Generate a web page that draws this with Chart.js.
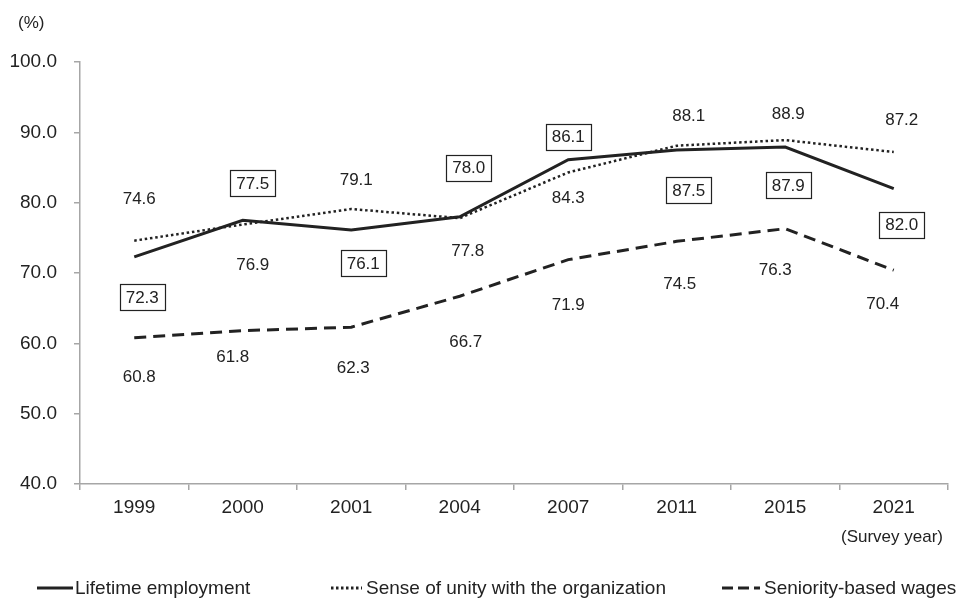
<!DOCTYPE html>
<html>
<head>
<meta charset="utf-8">
<script src="https://cdn.jsdelivr.net/npm/chart.js@4/dist/chart.umd.min.js"></script>
<style>
  html, body { margin: 0; padding: 0; background: #fff; }
  #wrap { width: 976px; height: 608px; }
</style>
</head>
<body>
<div id="wrap"><canvas id="myChart" width="976" height="608"></canvas></div>
<script>
// survey years and the three series (%)
var years = ["1999", "2000", "2001", "2004", "2007", "2011", "2015", "2021"];
var lifetime = [72.3, 77.5, 76.1, 78.0, 86.1, 87.5, 87.9, 82.0];
var unity = [74.6, 76.9, 79.1, 77.8, 84.3, 88.1, 88.9, 87.2];
var seniority = [60.8, 61.8, 62.3, 66.7, 71.9, 74.5, 76.3, 70.4];
var yTicks = [40, 50, 60, 70, 80, 90, 100];

var seriesNames = ["Lifetime employment", "Sense of unity with the organization", "Seniority-based wages"];

// where each value label sits relative to its point (px, label centre)
var labelDy = [
    [40, -37, 33, -49, -23, 40, 38, 36],
    [-42, 40, -30, 32, 25, -30, -27, -33],
    [39, 26, 40, 45, 45, 42, 41, 33]
];
var labelDx = [
    [8, 10, 12, 9, 0, 12, 3, 8],
    [5, 10, 5, 8, 0, 12, 3, 8],
    [5, -10, 2, 6, 0, 3, -10, -11]
];

var ink = "#222222";
var axisGrey = "#a6a6a6";
var font = "'Liberation Sans', Arial, sans-serif";

var valueLabels = {
    id: "valueLabels",
    afterDatasetsDraw: function (chart) {
        var ctx = chart.ctx;
        ctx.save();
        ctx.font = "17px " + font;
        ctx.textAlign = "center";
        ctx.textBaseline = "middle";
        chart.data.datasets.forEach(function (ds, i) {
            var meta = chart.getDatasetMeta(i);
            meta.data.forEach(function (pt, j) {
                var txt = ds.data[j].toFixed(1);
                var x = pt.x + labelDx[i][j];
                var y = pt.y + labelDy[i][j];
                if (i == 0) {
                    var w = ctx.measureText(txt).width + 12;
                    ctx.fillStyle = "#fff";
                    ctx.fillRect(x - w / 2, y - 13, w, 26);
                    ctx.strokeStyle = ink;
                    ctx.lineWidth = 1.2;
                    ctx.strokeRect(Math.round(x - w / 2) + 0.5, Math.round(y - 13) + 0.5, Math.round(w), 26);
                }
                ctx.fillStyle = ink;
                ctx.fillText(txt, x, y + 1);
            });
        });
        ctx.restore();
    }
};

var extras = {
    id: "extras",
    afterDraw: function (chart) {
        var ctx = chart.ctx;
        ctx.save();
        ctx.fillStyle = ink;
        ctx.font = "17px " + font;
        ctx.textBaseline = "middle";
        ctx.textAlign = "left";
        ctx.fillText("(%)", 18, 23);
        ctx.textAlign = "right";
        ctx.fillText("(Survey year)", 943, 537);

        // legend
        var legendY = 588;
        var items = [
            { x0: 37, len: 36, dash: [], tx: 75 },
            { x0: 331, len: 31, dash: [2.5, 2.5], tx: 366 },
            { x0: 722, len: 38, dash: [11, 5], tx: 764 }
        ];
        ctx.textAlign = "left";
        ctx.font = "19px " + font;
        items.forEach(function (it, k) {
            ctx.beginPath();
            ctx.setLineDash(it.dash);
            ctx.strokeStyle = ink;
            ctx.lineWidth = 3;
            ctx.moveTo(it.x0, legendY);
            ctx.lineTo(it.x0 + it.len, legendY);
            ctx.stroke();
            ctx.setLineDash([]);
            ctx.fillText(seriesNames[k], it.tx, legendY + 1);
        });
        ctx.restore();
    }
};

new Chart("myChart", {
    type: "line",
    data: {
        labels: years,
        datasets: [
            { label: seriesNames[0], data: lifetime, borderColor: ink, borderWidth: 3 },
            { label: seriesNames[1], data: unity, borderColor: ink, borderWidth: 2.5, borderDash: [2.5, 2.8] },
            { label: seriesNames[2], data: seniority, borderColor: ink, borderWidth: 3, borderDash: [12, 7] }
        ]
    },
    options: {
        responsive: false,
        animation: false,
        devicePixelRatio: 1,
        layout: { padding: { left: 0, right: 28, top: 62, bottom: 84 } },
        elements: {
            point: { radius: 0, hoverRadius: 0 },
            line: { tension: 0, fill: false }
        },
        plugins: {
            legend: { display: false },
            tooltip: { enabled: false },
            title: { display: false }
        },
        scales: {
            x: {
                offset: true,
                afterFit: function (s) { s.height = 40; },
                border: { color: axisGrey, width: 1.5 },
                grid: { display: true, offset: true, drawOnChartArea: false, drawTicks: true, tickLength: 6, color: axisGrey, lineWidth: 1.5 },
                ticks: { color: ink, font: { family: font, size: 19 }, padding: 6, maxRotation: 0 }
            },
            y: {
                min: 40,
                max: 100,
                afterFit: function (s) { s.width = 80; },
                afterBuildTicks: function (s) { s.ticks = yTicks.map(function (v) { return { value: v }; }); },
                border: { color: axisGrey, width: 1.5 },
                grid: { display: true, drawOnChartArea: false, drawTicks: true, tickLength: 6, color: axisGrey, lineWidth: 1.5 },
                ticks: {
                    color: ink,
                    font: { family: font, size: 19 },
                    padding: 17,
                    callback: function (v) { return Number(v).toFixed(1); }
                }
            }
        }
    },
    plugins: [valueLabels, extras]
});
</script>
</body>
</html>
